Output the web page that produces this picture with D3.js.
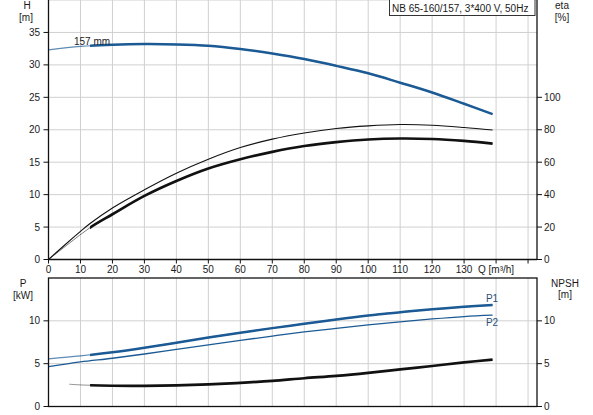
<!DOCTYPE html>
<html><head><meta charset="utf-8">
<script src="https://cdn.jsdelivr.net/npm/d3@7"></script>
<style>
html,body{margin:0;padding:0;background:#fff;}
svg{display:block;}
text{font-family:"Liberation Sans",Arial,sans-serif;font-size:10px;fill:#1a1a1a;}
</style></head>
<body>
<svg id="c" width="593" height="415"></svg>
<script>
// ---- data ----
const qTicks = [0,10,20,30,40,50,60,70,80,90,100,110,120,130];
const qGrid = [10,20,30,40,50,60,70,80,90,100,110,120,130,140,150];
const hTicks = [0,5,10,15,20,25,30,35];
const etaTicks = [0,20,40,60,80,100];
const pTicks = [0,5,10];
const npshTicks = [0,5,10];

const curveQ = [0,10,20,30,40,50,60,70,80,90,100,110,120,130,138.9];
const headH = [32.3,32.85,33.1,33.2,33.15,32.95,32.45,31.75,30.9,29.85,28.7,27.25,25.75,24.0,22.4];
const p1 = [5.55,5.9,6.33,6.86,7.45,8.05,8.62,9.15,9.65,10.16,10.62,11.0,11.35,11.63,11.86];
const p2 = [4.65,5.2,5.63,6.13,6.67,7.2,7.72,8.22,8.7,9.12,9.52,9.88,10.22,10.5,10.66];

const etaUpQ = [0,5,10,13,20,30,40,50,60,70,80,90,100,110,120,130,138.9];
const etaUp = [0,8.8,17.3,22.2,31.8,43.0,53.2,61.8,69.0,74.2,78.0,80.8,82.4,83.2,82.8,81.4,79.8];
const etaLoQ = [0,6.5,13,20,30,40,50,60,70,80,90,100,110,120,130,138.9];
const etaLo = [0,10,19.7,27.9,39.2,48.4,56.1,61.8,66.4,70.0,72.4,74.0,74.6,74.3,73.1,71.5];

const npshQ = [6.5,10,20,30,40,50,60,70,80,90,100,110,120,130,138.9];
const npsh = [2.6,2.52,2.42,2.41,2.47,2.58,2.76,2.99,3.3,3.57,3.92,4.33,4.73,5.15,5.47];

const qThick = 13;   // start of thick (operating) part
const titleText = "NB 65-160/157, 3*400 V, 50Hz";

// ---- layout ----
const L = 48.5, R = 537;
const topY0 = 259.5, topY1 = 0;
const botY0 = 406.5, botY1 = 278;
const blue = "#1b5a94";
const gridC = "#d0d0d0";

const svg = d3.select("#c");
const x = d3.scaleLinear().domain([0,152.8]).range([L,R]);
const yH = d3.scaleLinear().domain([0,40]).range([topY0,topY1]);
const yEta = d3.scaleLinear().domain([0,160]).range([topY0,topY1]);
const yP = d3.scaleLinear().domain([0,15]).range([botY0,botY1]);

// clip paths for thick portions
const defs = svg.append("defs");
defs.append("clipPath").attr("id","thickTop").append("rect")
  .attr("x", x(qThick)).attr("y", 0).attr("width", R - x(qThick) + 5).attr("height", topY0);
defs.append("clipPath").attr("id","thickBot").append("rect")
  .attr("x", x(qThick)).attr("y", botY1).attr("width", R - x(qThick) + 5).attr("height", botY0-botY1);

// ---- grids ----
const g = svg.append("g");
g.selectAll(".vt").data(qGrid).join("line")
  .attr("x1", d=>x(d)).attr("x2", d=>x(d)).attr("y1", topY1).attr("y2", topY0)
  .attr("stroke", gridC).attr("stroke-width",1);
g.selectAll(".ht").data([5,10,15,20,25,30,35,40]).join("line")
  .attr("x1", L).attr("x2", R).attr("y1", d=>yH(d)).attr("y2", d=>yH(d))
  .attr("stroke", gridC).attr("stroke-width",1);
g.selectAll(".vb").data(qGrid).join("line")
  .attr("x1", d=>x(d)).attr("x2", d=>x(d)).attr("y1", botY1).attr("y2", botY0)
  .attr("stroke", gridC).attr("stroke-width",1);
g.selectAll(".hb").data([5,10]).join("line")
  .attr("x1", L).attr("x2", R).attr("y1", d=>yP(d)).attr("y2", d=>yP(d))
  .attr("stroke", gridC).attr("stroke-width",1);

// ---- curves ----
const zipd = (qs, vs) => qs.map((q,i)=>[q, vs[i]]);
const lineFn = (ys) => d3.line().x(d=>x(d[0])).y(d=>ys(d[1])).curve(d3.curveCatmullRom.alpha(0.5));

function curve(data, ys, color, thinW, thickW, clipId, thinOpacity){
  const path = lineFn(ys)(data);
  if (thinW) svg.append("path").attr("d", path).attr("fill","none")
      .attr("stroke", color).attr("stroke-width", thinW).attr("stroke-opacity", thinOpacity||1);
  if (thickW) svg.append("path").attr("d", path).attr("fill","none")
      .attr("stroke", color).attr("stroke-width", thickW).attr("clip-path", `url(#${clipId})`);
}
curve(zipd(curveQ, headH), yH, blue, 1.2, 2.5, "thickTop", 0.7);
curve(zipd(etaUpQ, etaUp), yEta, "#111", 1.1, 0, null, 1);
curve(zipd(etaLoQ, etaLo), yEta, "#111", 1, 2.7, "thickTop", 0.55);
curve(zipd(curveQ, p1), yP, blue, 1.2, 2.5, "thickBot", 0.7);
curve(zipd(curveQ, p2), yP, blue, 1.3, 0, null, 1);
curve(zipd(npshQ, npsh), yP, "#111", 1, 2.7, "thickBot", 0.45);

// ---- axes frames ----
const ax = svg.append("g").attr("stroke","#111").attr("stroke-width",1.3).attr("fill","none");
ax.append("line").attr("x1",L).attr("x2",L).attr("y1",0).attr("y2",topY0);
ax.append("line").attr("x1",R).attr("x2",R).attr("y1",0).attr("y2",topY0);
ax.append("line").attr("x1",L).attr("x2",R).attr("y1",topY0).attr("y2",topY0);
ax.append("rect").attr("x",L).attr("y",botY1).attr("width",R-L).attr("height",botY0-botY1);

// ticks
const tk = svg.append("g").attr("stroke","#111").attr("stroke-width",1);
tk.selectAll(".l").data(hTicks).join("line").attr("x1",L-5).attr("x2",L).attr("y1",d=>yH(d)).attr("y2",d=>yH(d));
tk.selectAll(".r").data(etaTicks).join("line").attr("x1",R).attr("x2",R+5).attr("y1",d=>yEta(d)).attr("y2",d=>yEta(d));
tk.selectAll(".b").data(qTicks.concat([140,150])).join("line").attr("x1",d=>x(d)).attr("x2",d=>x(d)).attr("y1",topY0).attr("y2",topY0+4);
tk.selectAll(".pl").data(pTicks).join("line").attr("x1",L-5).attr("x2",L).attr("y1",d=>yP(d)).attr("y2",d=>yP(d));
tk.selectAll(".pr").data(npshTicks).join("line").attr("x1",R).attr("x2",R+5).attr("y1",d=>yP(d)).attr("y2",d=>yP(d));

// tick labels
const tl = svg.append("g");
tl.selectAll(".hl").data(hTicks).join("text").attr("x",40).attr("y",d=>yH(d)+3.5).attr("text-anchor","end").text(d=>d);
tl.selectAll(".el").data(etaTicks).join("text").attr("x",544).attr("y",d=>yEta(d)+3.5).text(d=>d);
tl.selectAll(".ql").data(qTicks).join("text").attr("x",d=>x(d)).attr("y",273).attr("text-anchor","middle").text(d=>d);
tl.append("text").attr("x",x(140)).attr("y",273).attr("text-anchor","middle").text("Q [m³/h]");
tl.selectAll(".pl").data(pTicks).join("text").attr("x",40).attr("y",d=>yP(d)+3.5).attr("text-anchor","end").text(d=>d);
tl.selectAll(".nl").data(npshTicks).join("text").attr("x",544).attr("y",d=>yP(d)+3.5).text(d=>d);

// axis titles
const at = svg.append("g").attr("text-anchor","middle");
at.append("text").attr("x",27).attr("y",9).text("H");
at.append("text").attr("x",26).attr("y",21).text("[m]");
at.append("text").attr("x",562).attr("y",9).text("eta");
at.append("text").attr("x",562).attr("y",21).text("[%]");
at.append("text").attr("x",23).attr("y",287).text("P");
at.append("text").attr("x",23).attr("y",299).text("[kW]");
at.append("text").attr("x",565).attr("y",287).text("NPSH");
at.append("text").attr("x",565).attr("y",298).text("[m]");

// curve labels
svg.append("text").attr("x",74).attr("y",44.5).text("157 mm");
svg.append("text").attr("x",492).attr("y",302).attr("text-anchor","middle").style("fill","#2a4f7a").text("P1");
svg.append("text").attr("x",492).attr("y",326).attr("text-anchor","middle").style("fill","#2a4f7a").text("P2");

// title box
const tb = svg.append("g");
tb.append("rect").attr("x",389.5).attr("y",-1).attr("width",145.5).attr("height",16.5)
  .attr("fill","#fff").attr("stroke","#333").attr("stroke-width",1);
tb.append("text").attr("x",392).attr("y",12).text(titleText);
</script>
</body></html>
